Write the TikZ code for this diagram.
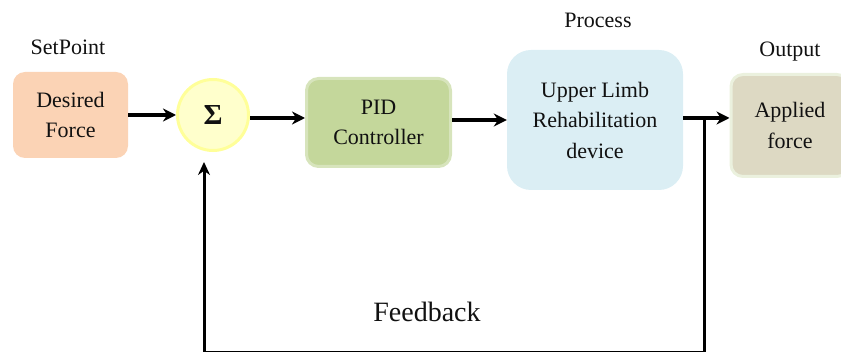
\documentclass[tikz,border=0pt]{standalone}
\usepackage{fontspec}
\setmainfont{Liberation Serif}
\usetikzlibrary{arrows.meta}
\definecolor{peach}{HTML}{FBD3B5}
\definecolor{sumfill}{HTML}{FFFFCC}
\definecolor{sumline}{HTML}{FFFF99}
\definecolor{pidfill}{HTML}{C4D79B}
\definecolor{pidline}{HTML}{D7E4BC}
\definecolor{procfill}{HTML}{DBEEF4}
\definecolor{outfill}{HTML}{DDD9C3}
\definecolor{outline}{HTML}{EBF1DE}
\definecolor{ink}{HTML}{111111}
\tikzset{
  blockbox/.style={rounded corners=12pt, align=center, text=ink,
    font=\fontsize{22}{30.5}\selectfont, inner sep=0pt},
  caption/.style={text=ink, font=\fontsize{22}{25}\selectfont},
  flow/.style={line width=3.8pt, -{Stealth[length=13pt,width=13pt]}},
  fb/.style={line width=3pt}
}
\begin{document}
\begin{tikzpicture}[x=1pt,y=1pt]
  \useasboundingbox (0,0) rectangle (841,351);
  % blocks of the loop
  \node[blockbox, fill=peach, minimum width=115pt, minimum height=86pt] (des) at (70.5,236) {Desired\\Force};
  \node[circle, draw=sumline, line width=3pt, fill=sumfill, minimum size=71pt, inner sep=0pt,
        text=ink, font=\fontsize{29}{30}\selectfont\bfseries] (sum) at (213,236) {Σ};
  \node[blockbox, fill=pidfill, draw=pidline, line width=3pt, minimum width=144pt, minimum height=88pt] (pid) at (378.5,228.5) {PID\\Controller};
  \node[blockbox, rounded corners=24pt, fill=procfill, minimum width=176pt, minimum height=140pt] (proc) at (595,231) {Upper Limb\\Rehabilitation\\device};
  \node[blockbox, fill=outfill, draw=outline, line width=3pt, minimum width=118pt, minimum height=102pt] (out) at (790,225.5) {Applied\\force};
  % headings
  \node[caption] (lset) at (68,304) {SetPoint};
  \node[caption] (lproc) at (598,331) {Process};
  \node[caption] (lout) at (790,299) {Output};
  \node[text=ink, font=\fontsize{28}{30}\selectfont] (lfb) at (427,39) {Feedback};
  % forward path
  \draw[flow] (des.east |- 0,236) -- (sum.west |- 0,236);
  \draw[flow] (sum.east |- 0,233) -- (pid.west |- 0,233);
  \draw[flow] (pid.east |- 0,231) -- (proc.west |- 0,231);
  \draw[flow] (proc.east |- 0,233) -- (out.west |- 0,233);
  % feedback path, its lower run lies on the page edge
  \coordinate (tap) at (704,233);
  \coordinate (br) at (704,-1.2);
  \coordinate (bl) at (204,-1.2);
  \coordinate (fin) at (204,189);
  \draw[fb] (tap) -- (br) -- (bl);
  \draw[fb, -{Stealth[length=13pt,width=12pt]}] (bl) -- (fin);
\end{tikzpicture}
\end{document}
